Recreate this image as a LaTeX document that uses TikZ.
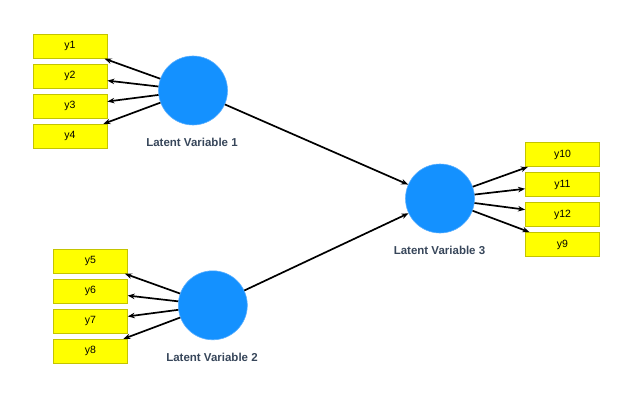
\documentclass[tikz,border=0pt]{standalone}
\usepackage{fontspec}
\setmainfont{Liberation Sans}
\usetikzlibrary{arrows.meta}
\definecolor{boxfill}{RGB}{255,255,0}
\definecolor{boxline}{RGB}{196,196,0}
\definecolor{lvfill}{RGB}{20,145,255}
\definecolor{lvline}{RGB}{90,175,255}
\definecolor{lvtext}{RGB}{55,70,90}
\tikzset{
  ind/.style={draw=boxline, fill=boxfill, line width=0.9pt, minimum width=74pt, minimum height=24pt, inner sep=0pt, font=\fontsize{10.5}{12}\selectfont},
  lv/.style={circle, fill=lvfill, draw=lvline, line width=0.6pt, minimum size=69pt, inner sep=0pt},
  lvlab/.style={font=\fontsize{11.5}{13}\selectfont\bfseries, text=lvtext},
  arr/.style={-{Stealth[length=7pt,width=5.5pt]}, line width=1.7pt, black}
}
\begin{document}
\begin{tikzpicture}[x=1pt,y=-1pt]
\useasboundingbox (0,0) rectangle (639,401);
% group 1
\node[ind] (y1) at (70,46.3) {y1};
\node[ind] (y2) at (70,76.3) {y2};
\node[ind] (y3) at (70,106.3) {y3};
\node[ind] (y4) at (70,136.3) {y4};
\node[lv] (lv1) at (193,90.5) {};
\node[lvlab] (l1) at (192,142) {Latent Variable 1};
% group 2
\node[ind] (y5) at (90.3,261.3) {y5};
\node[ind] (y6) at (90.3,291.3) {y6};
\node[ind] (y7) at (90.3,321.3) {y7};
\node[ind] (y8) at (90.3,351.3) {y8};
\node[lv] (lv2) at (212.8,305.3) {};
\node[lvlab] (l2) at (212,357.3) {Latent Variable 2};
% group 3
\node[ind] (y10) at (562.5,154.5) {y10};
\node[ind] (y11) at (562.5,184.5) {y11};
\node[ind] (y12) at (562.5,214.5) {y12};
\node[ind] (y9) at (562.5,244.5) {y9};
\node[lv] (lv3) at (440,198.5) {};
\node[lvlab] (l3) at (439.5,250) {Latent Variable 3};
% arrows
\foreach \t in {y1,y2,y3,y4} \draw[arr] (lv1) -- (\t);
\foreach \t in {y5,y6,y7,y8} \draw[arr] (lv2) -- (\t);
\foreach \t in {y10,y11,y12,y9} \draw[arr] (lv3) -- (\t);
\draw[arr] (lv1) -- (lv3);
\draw[arr] (lv2) -- (lv3);
\end{tikzpicture}
\end{document}
